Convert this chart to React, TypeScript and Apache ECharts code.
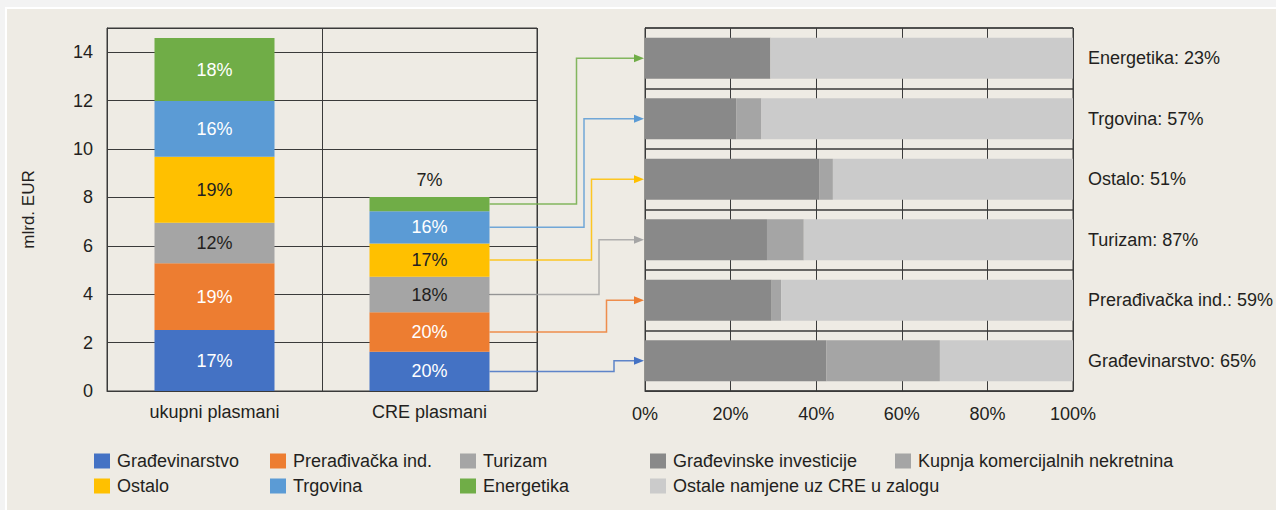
import React, { useEffect, useRef } from "react";
import * as echarts from "echarts";

const FONT = "'Liberation Sans', Arial, Helvetica, sans-serif";
const TEXT = "#231f20";
const LINE = "#3a3a3a";
const FS = 18;

// Left chart: stacked bars (mlrd. EUR)
const barCategories = ["ukupni plasmani", "CRE plasmani"];
const sectors = ["Građevinarstvo", "Prerađivačka ind.", "Turizam", "Ostalo", "Trgovina", "Energetika"];
const sectorColors = ["#4472c4", "#ed7d31", "#a5a5a5", "#ffc000", "#5b9bd5", "#70ad47"];
const sectorLabelColors = ["#ffffff", "#ffffff", TEXT, TEXT, "#ffffff", "#ffffff"];
const ukupniValues = [2.52, 2.76, 1.67, 2.73, 2.3, 2.61];
const creValues = [1.62, 1.63, 1.47, 1.38, 1.33, 0.59];
const ukupniShare = [17, 19, 12, 19, 16, 18];
const creShare = [20, 20, 18, 17, 16, 7];
const yMax = 15;
const yInterval = 2;

// Right chart: structure of CRE placements (%)
const creCategoryLabels = [
  "Građevinarstvo: 65%",
  "Prerađivačka ind.: 59%",
  "Turizam: 87%",
  "Ostalo: 51%",
  "Trgovina: 57%",
  "Energetika: 23%",
];
const purposeNames = ["Građevinske investicije", "Kupnja komercijalnih nekretnina", "Ostale namjene uz CRE u zalogu"];
const purposeColors = ["#898989", "#a5a5a5", "#cbcbcb"];
const gradevinskeInvesticije = [42.4, 29.6, 28.5, 40.8, 21.3, 29.3];
const kupnjaNekretnina = [26.5, 2.2, 8.6, 3.1, 5.9, 0];
const ostaleNamjene = [31.1, 68.2, 62.9, 56.1, 72.8, 70.7];
const purposeValues = [gradevinskeInvesticije, kupnjaNekretnina, ostaleNamjene];

const legendSlots = [
  [94, 450], [270, 450], [460, 450],
  [94, 475], [270, 475], [460, 475],
  [650, 450], [895, 450], [650, 475],
];

export default function App() {
  const ref = useRef<HTMLDivElement>(null);

  useEffect(() => {
    if (!ref.current) return;
    const chart = echarts.init(ref.current, undefined, { renderer: "svg" });

    const legendNames = [...sectors, ...purposeNames];
    const legends = legendNames.map((name, k) => ({
      data: [name],
      left: legendSlots[k][0],
      top: legendSlots[k][1],
      padding: 0,
      icon: "rect",
      itemWidth: 16,
      itemHeight: 15,
      selectedMode: false,
      textStyle: { fontFamily: FONT, fontSize: FS, color: TEXT, lineHeight: 22, padding: [0, 0, 0, 2] },
    }));

    const leftSeries = sectors.map((name, i) => ({
      type: "bar",
      name,
      stack: "total",
      xAxisIndex: 0,
      yAxisIndex: 0,
      barWidth: 120,
      itemStyle: { color: sectorColors[i] },
      label: {
        show: true,
        position: "inside",
        color: sectorLabelColors[i],
        fontFamily: FONT,
        fontSize: FS,
      },
      data: [
        { value: ukupniValues[i], label: { formatter: ukupniShare[i] + "%" } },
        i === sectors.length - 1
          ? { value: creValues[i], label: { formatter: creShare[i] + "%", position: "top", color: TEXT, distance: 8 } }
          : { value: creValues[i], label: { formatter: creShare[i] + "%" } },
      ],
    }));

    const rightSeries = purposeNames.map((name, j) => ({
      type: "bar",
      name,
      stack: "cre",
      xAxisIndex: 1,
      yAxisIndex: 1,
      barWidth: 41,
      itemStyle: { color: purposeColors[j] },
      data: purposeValues[j],
    }));

    const panel = {
      type: "rect",
      id: "panel",
      z: -100,
      silent: true,
      shape: { x: 6, y: 8, width: 1290, height: 520 },
      style: { fill: "#eeebe4", stroke: "#ffffff", lineWidth: 2 },
    };

    chart.setOption({
      animation: false,
      backgroundColor: "#f3f3f3",
      textStyle: { fontFamily: FONT },
      grid: [
        { left: 107, top: 28, width: 430, height: 363, show: true, borderColor: LINE, borderWidth: 1, backgroundColor: "transparent", outerBoundsMode: "none", containLabel: false },
        { left: 645, top: 28, width: 428, height: 363, show: true, borderColor: LINE, borderWidth: 1, backgroundColor: "transparent", outerBoundsMode: "none", containLabel: false },
      ],
      legend: legends,
      xAxis: [
        {
          type: "category",
          gridIndex: 0,
          data: barCategories,
          axisTick: { show: false },
          axisLine: { lineStyle: { color: LINE } },
          splitLine: { show: true, lineStyle: { color: LINE, width: 1 } },
          axisLabel: { fontFamily: FONT, fontSize: FS, color: TEXT, margin: 12 },
        },
        {
          type: "value",
          gridIndex: 1,
          min: 0,
          max: 100,
          interval: 20,
          axisLine: { show: true, lineStyle: { color: LINE } },
          axisTick: { show: false },
          splitLine: { show: true, lineStyle: { color: LINE, width: 1 } },
          axisLabel: { formatter: "{value}%", fontFamily: FONT, fontSize: FS, color: TEXT, margin: 14 },
        },
      ],
      yAxis: [
        {
          type: "value",
          gridIndex: 0,
          min: 0,
          max: yMax,
          interval: yInterval,
          axisLine: { show: true, lineStyle: { color: LINE } },
          axisTick: { show: false },
          splitLine: { show: true, lineStyle: { color: LINE, width: 1 } },
          axisLabel: { showMaxLabel: false, fontFamily: FONT, fontSize: FS, color: TEXT, margin: 14 },
          name: "mlrd. EUR",
          nameLocation: "middle",
          nameRotate: 90,
          nameGap: 70,
          nameTextStyle: { fontFamily: FONT, fontSize: 17, color: TEXT },
        },
        {
          type: "category",
          gridIndex: 1,
          position: "right",
          data: creCategoryLabels,
          axisTick: { show: false },
          axisLine: { show: true, lineStyle: { color: LINE } },
          splitLine: { show: true, lineStyle: { color: LINE, width: 1.5 } },
          axisLabel: { fontFamily: FONT, fontSize: FS, color: TEXT, margin: 15 },
        },
      ],
      series: [...leftSeries, ...rightSeries],
      graphic: { elements: [panel] },
    });

    // Connector arrows from CRE segments to the breakdown bars
    const creCenterX = chart.convertToPixel({ xAxisIndex: 0 }, barCategories[1]) as number;
    const sourceX = creCenterX + 60;
    const targetX = chart.convertToPixel({ xAxisIndex: 1 }, 0) as number;
    const arrows: any[] = [];
    let cum = 0;
    sectors.forEach((name, i) => {
      const mid = cum + creValues[i] / 2;
      cum += creValues[i];
      const ys = chart.convertToPixel({ yAxisIndex: 0 }, mid) as number;
      const yt = chart.convertToPixel({ yAxisIndex: 1 }, creCategoryLabels[i]) as number;
      const xe = sourceX + 87 + (sectors.length - 1 - i) * 7.5;
      const tip = targetX - 1;
      arrows.push({
        type: "polyline",
        id: "line" + i,
        silent: true,
        z: 50,
        shape: { points: [[sourceX, ys], [xe, ys], [xe, yt], [tip - 7, yt]] },
        style: { stroke: sectorColors[i], lineWidth: 1.5, fill: null, opacity: 0.85 },
      });
      arrows.push({
        type: "polygon",
        id: "head" + i,
        silent: true,
        z: 50,
        shape: { points: [[tip - 10, yt - 4], [tip, yt], [tip - 10, yt + 4]] },
        style: { fill: sectorColors[i] },
      });
    });

    chart.setOption({ graphic: { elements: [panel, ...arrows] } });

    return () => chart.dispose();
  }, []);

  return (
    <div
      ref={ref}
      style={{ position: "fixed", left: 0, top: 0, width: 1276, height: 510 }}
    />
  );
}
